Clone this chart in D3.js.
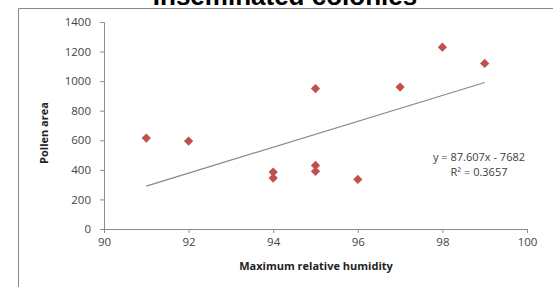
<!DOCTYPE html>
<html>
<head>
<meta charset="utf-8">
<script src="https://cdn.jsdelivr.net/npm/d3@7"></script>
<style>
  body { margin: 0; background: #fff; }
  text { font-family: "Open Sans", "Liberation Sans", sans-serif; }
</style>
</head>
<body>
<div id="chart"></div>
<script>
  // humidity / pollen area readings
  var humidity = [91, 92, 94, 94, 95, 95, 95, 96, 97, 98, 99];
  var pollenArea = [615, 595, 385, 345, 950, 430, 390, 335, 960, 1230, 1120];
  var xTicks = [90, 92, 94, 96, 98, 100];
  var yTicks = [0, 200, 400, 600, 800, 1000, 1200, 1400];
  var slope = 87.607, intercept = -7682;

  var width = 553, height = 287;

  var svg = d3.select("#chart").append("svg")
    .attr("width", width)
    .attr("height", height);

  // outer frame (right & bottom run off the picture)
  svg.append("path")
    .attr("d", "M18.5," + height + "V8.5H" + width)
    .attr("fill", "none")
    .attr("stroke", "#888")
    .attr("stroke-width", 1);

  // title, mostly cropped off in the original too
  svg.append("text")
    .attr("x", 285)
    .attr("y", 5)
    .attr("text-anchor", "middle")
    .style("font-family", "'Liberation Sans', Arial, sans-serif")
    .style("font-weight", "bold")
    .style("font-size", "26px")
    .attr("fill", "#000")
    .text("Inseminated colonies");

  var x = d3.scaleLinear().domain([90, 100]).range([104, 527]);
  var y = d3.scaleLinear().domain([0, 1400]).range([229, 22]);

  var xAxis = svg.append("g")
    .attr("transform", "translate(0," + y(0) + ")")
    .call(d3.axisBottom(x).tickValues(xTicks).tickFormat(d3.format("d"))
      .tickSize(4).tickPadding(5));
  var yAxis = svg.append("g")
    .attr("transform", "translate(" + x(90) + ",0)")
    .call(d3.axisLeft(y).tickValues(yTicks).tickFormat(d3.format("d"))
      .tickSize(4).tickPadding(9));

  [xAxis, yAxis].forEach(function(ax) {
    ax.select(".domain").attr("stroke", "#8c8c8c");
    ax.selectAll(".tick line").attr("stroke", "#8c8c8c");
    ax.selectAll(".tick text")
      .attr("fill", "#444")
      .style("font-size", "11.5px");
  });

  // trendline
  svg.append("line")
    .attr("x1", x(91)).attr("y1", y(slope * 91 + intercept))
    .attr("x2", x(99)).attr("y2", y(slope * 99 + intercept))
    .attr("stroke", "#888")
    .attr("stroke-width", 1.2);

  // diamond markers
  var points = humidity.map(function(h, i) { return { x: h, y: pollenArea[i] }; });
  svg.selectAll(".pt")
    .data(points)
    .enter()
    .append("path")
    .attr("class", "pt")
    .attr("d", d3.symbol().type(d3.symbolDiamond2).size(55))
    .attr("transform", function(d) { return "translate(" + x(d.x) + "," + y(d.y) + ")"; })
    .attr("fill", "#c0504d");

  // regression label
  svg.append("text")
    .attr("x", 479).attr("y", 161)
    .attr("text-anchor", "middle")
    .attr("fill", "#404040")
    .style("font-size", "11px")
    .text("y = 87.607x - 7682");
  svg.append("text")
    .attr("x", 479).attr("y", 176)
    .attr("text-anchor", "middle")
    .attr("fill", "#404040")
    .style("font-size", "11px")
    .text("R² = 0.3657");

  // axis titles
  svg.append("text")
    .attr("x", 316).attr("y", 270)
    .attr("text-anchor", "middle")
    .style("font-weight", "bold")
    .style("font-size", "11px")
    .attr("fill", "#222")
    .text("Maximum relative humidity");
  svg.append("text")
    .attr("transform", "translate(48,133) rotate(-90)")
    .attr("text-anchor", "middle")
    .style("font-weight", "bold")
    .style("font-size", "11px")
    .attr("fill", "#222")
    .text("Pollen area");
</script>
</body>
</html>
